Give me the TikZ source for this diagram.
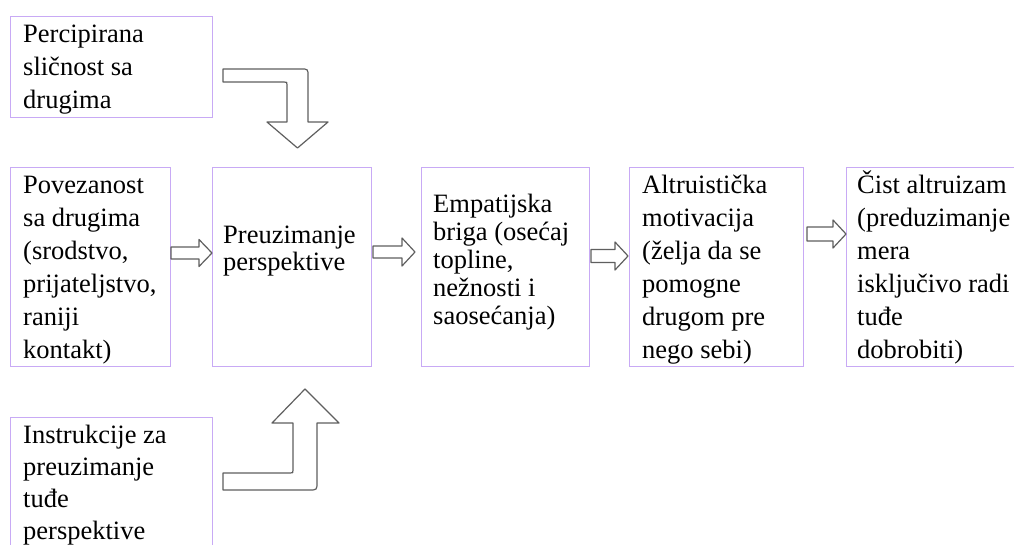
\documentclass[tikz,border=0pt]{standalone}
\usepackage{fontspec}
\setmainfont{Liberation Serif}
\definecolor{boxc}{RGB}{200,170,245}
\definecolor{arrc}{RGB}{95,95,95}
\tikzset{
  box/.style={draw=boxc, line width=1.1pt, inner sep=0pt, anchor=north west},
  txt/.style={inner sep=0pt, anchor=base west},
  barrow/.style={draw=arrc, fill=white, line width=1.2pt, line join=round},
}
\newcommand\rarr[6]{%
  \draw[barrow] (#1,#3-#4) -- (#2-#6,#3-#4) -- (#2-#6,#3-#5) -- (#2,#3)
    -- (#2-#6,#3+#5) -- (#2-#6,#3+#4) -- (#1,#3+#4) -- cycle;}
\begin{document}
\begin{tikzpicture}[x=1pt, y=-1pt]
\useasboundingbox (0,0) rectangle (1014,544);
\fill[white] (0,0) rectangle (1014,544);
\clip (0,0) rectangle (1014,544);

% boxes
\node[box, minimum width=202pt, minimum height=101pt] (A) at (10,16) {};
\node[box, minimum width=160pt, minimum height=199pt] (B) at (10,167) {};
\node[box, minimum width=159pt, minimum height=199pt] (C) at (212,167) {};
\node[box, minimum width=168pt, minimum height=199pt] (D) at (421,167) {};
\node[box, minimum width=174pt, minimum height=199pt] (E) at (629,167) {};
\node[box, minimum width=190pt, minimum height=199pt] (F) at (846,167) {};
\node[box, minimum width=202pt, minimum height=150pt] (G) at (10,417) {};

% texts
\node[txt, font={\fontsize{26.5}{33}\selectfont}] (tA) at (23,42)
  {\parbox[t]{400pt}{Percipirana\\sličnost sa\\drugima}};
\node[txt, font={\fontsize{26.5}{33}\selectfont}] (tB) at (23,193)
  {\parbox[t]{400pt}{Povezanost\\sa drugima\\(srodstvo,\\prijateljstvo,\\raniji\\kontakt)}};
\node[txt, font={\fontsize{26.5}{27.5}\selectfont}] (tC) at (223,243)
  {\parbox[t]{400pt}{Preuzimanje\\perspektive}};
\node[txt, font={\fontsize{26.5}{28}\selectfont}] (tD) at (433,212)
  {\parbox[t]{400pt}{Empatijska\\briga (osećaj\\topline,\\nežnosti i\\saosećanja)}};
\node[txt, font={\fontsize{26.5}{33}\selectfont}] (tE) at (642,193)
  {\parbox[t]{400pt}{Altruistička\\motivacija\\(želja da se\\pomogne\\drugom pre\\nego sebi)}};
\node[txt, font={\fontsize{26.5}{33}\selectfont}] (tF) at (857,193)
  {\parbox[t]{400pt}{Čist altruizam\\(preduzimanje\\mera\\isključivo radi\\tuđe\\dobrobiti)}};
\node[txt, font={\fontsize{26.5}{32}\selectfont}] (tG) at (23,443)
  {\parbox[t]{400pt}{Instrukcije za\\preuzimanje\\tuđe\\perspektive}};

% straight block arrows between boxes
\rarr{171}{212}{253}{6}{13.5}{13}
\rarr{373}{415}{252}{6}{14}{13}
\rarr{591}{628}{256}{6.5}{14}{13}
\rarr{807}{846}{234}{7}{14}{13}

% bent arrow from top box (A) down into C
\draw[barrow] (223,69) -- (301,69) .. controls (308,69) .. (308,76)
  -- (308,122) -- (328,122) -- (297.5,148) -- (267,122) -- (287,122)
  -- (287,85) .. controls (287,82) .. (284,82) -- (223,82) -- cycle;

% bent arrow from bottom box (G) up into C
\draw[barrow] (223,473) -- (290,473) .. controls (293,473) .. (293,470)
  -- (293,423) -- (272,423) -- (305,389) -- (339,423) -- (317,423)
  -- (317,482) .. controls (317,490) .. (309,490) -- (223,490) -- cycle;
\end{tikzpicture}
\end{document}
